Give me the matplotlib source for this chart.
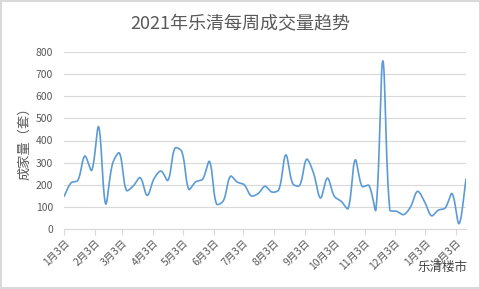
import numpy as np
import pandas as pd
import matplotlib
matplotlib.use("Agg")
import matplotlib.pyplot as plt
import matplotlib.dates as mdates

plt.rcParams['font.family'] = ['Noto Sans CJK SC', 'DejaVu Sans']

# weekly deals (sets), first week starting 2021-01-03
volume = [147, 208, 220, 330, 265, 462, 114, 295, 343, 175,
          195, 232, 152, 228, 262, 220, 365, 350, 180, 213,
          225, 305, 113, 128, 238, 212, 200, 150, 160, 193,
          167, 178, 335, 205, 197, 315, 253, 140, 230, 148,
          125, 93, 312, 193, 197, 87, 760, 87, 80, 65,
          100, 170, 125, 60, 85, 95, 160, 24, 226]
start_date = "2021-01-03"
tick_dates = ["2021-01-03", "2021-02-03", "2021-03-03", "2021-04-03",
              "2021-05-03", "2021-06-03", "2021-07-03", "2021-08-03",
              "2021-09-03", "2021-10-03", "2021-11-03", "2021-12-03",
              "2022-01-03", "2022-02-03"]
tick_labels = ["1月3日", "2月3日", "3月3日", "4月3日", "5月3日", "6月3日",
               "7月3日", "8月3日", "9月3日", "10月3日", "11月3日", "12月3日",
               "1月3日", "2月3日"]

weeks = pd.date_range(start_date, periods=len(volume), freq="7D")


def smooth(x, y, sx, sy, n=24):
    # excel-like smoothed line: bezier, tangents split by neighbour segment length
    p = np.column_stack([x, y]).astype(float)
    scale = np.array([sx, sy])
    out = []
    for i in range(len(p) - 1):
        p0 = p[i - 1] if i > 0 else p[i]
        p1, p2 = p[i], p[i + 1]
        p3 = p[i + 2] if i + 2 < len(p) else p[i + 1]
        l01 = np.linalg.norm((p1 - p0) * scale)
        l12 = np.linalg.norm((p2 - p1) * scale)
        l23 = np.linalg.norm((p3 - p2) * scale)
        f1 = l12 / (l01 + l12) if l01 + l12 > 0 else 0
        f2 = l12 / (l12 + l23) if l12 + l23 > 0 else 0
        c1 = p1 + (p2 - p0) * f1 / 3
        c2 = p2 - (p3 - p1) * f2 / 3
        t = np.linspace(0, 1, n, endpoint=False)[:, None]
        seg = ((1 - t) ** 3) * p1 + 3 * ((1 - t) ** 2) * t * c1 + 3 * (1 - t) * t ** 2 * c2 + t ** 3 * p2
        out.append(seg)
    out.append(p[-1:])
    out = np.vstack(out)
    return out[:, 0], out[:, 1]


xnum = mdates.date2num(weeks)
# pixel scale: ~402 px for the date span, 177 px for 0..800
xs, ys = smooth(xnum, volume, 402 / (xnum[-1] - xnum[0]), 177 / 800)

fig = plt.figure(figsize=(4.81, 2.89), dpi=100)
fig.patch.set_edgecolor("#d9d9d9")
fig.patch.set_linewidth(1.5)
ax = fig.add_axes([64 / 481, 1 - 229 / 289, (466 - 64) / 481, (229 - 52) / 289])

ax.plot(xs, ys, color="#5b9bd5", lw=1.2, solid_capstyle="round")

ax.set_ylim(0, 800)
ax.set_yticks(range(0, 801, 100))
ax.set_xlim(xnum[0], xnum[-1])
ax.set_xticks(mdates.date2num(pd.to_datetime(tick_dates)))
ax.set_xticklabels(tick_labels, rotation=45, ha="right", rotation_mode="anchor")

ax.grid(axis="y", color="#d9d9d9", lw=0.8)
ax.set_axisbelow(True)
for s in ["top", "right", "left"]:
    ax.spines[s].set_visible(False)
ax.spines["bottom"].set_color("#d9d9d9")
ax.spines["bottom"].set_linewidth(0.8)
ax.tick_params(axis="y", length=0, labelsize=7.5, labelcolor="#595959", pad=8)
ax.tick_params(axis="x", length=4, color="#d9d9d9", labelsize=7.5, labelcolor="#595959", pad=2)

ax.set_ylabel("成家量（套）", fontsize=9.5, color="#595959", labelpad=3)
fig.text(0.5, 1 - 24 / 289, "2021年乐清每周成交量趋势", ha="center", va="center",
         fontsize=13, color="#595959")

# watermark
fig.text(418 / 481, 1 - 268 / 289, "乐清楼市", ha="left", va="center",
         fontsize=9, color="#444444")

fig.savefig("out.png", dpi=100)
